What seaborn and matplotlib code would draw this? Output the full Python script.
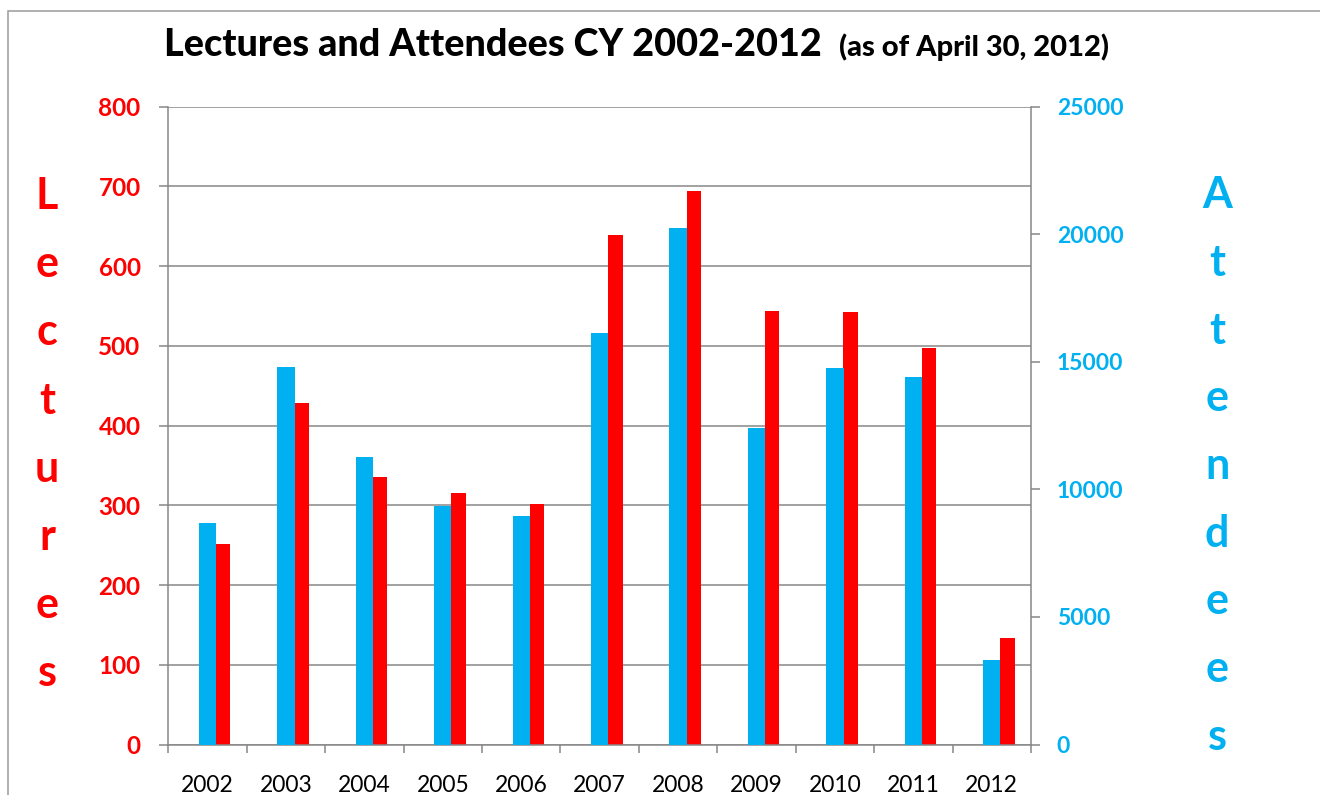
import pandas as pd
import seaborn as sns
import matplotlib.pyplot as plt
from matplotlib.patches import Rectangle


years = [2002, 2003, 2004, 2005, 2006, 2007, 2008, 2009, 2010, 2011, 2012]
lectures = [251, 428, 335, 316, 302, 639, 694, 544, 542, 497, 134]
attendees = [8690, 14810, 11270, 9360, 8950, 16120, 20250, 12400, 14760, 14420, 3300]

lecture_ticks = list(range(0, 801, 100))
attendee_ticks = list(range(0, 25001, 5000))

RED = '#FF0000'
BLUE = '#00B0F0'
GREY = '#878787'

sns.set_style('white')
plt.rcParams['font.family'] = ['Lato', 'DejaVu Sans']

df = pd.DataFrame({'year': years, 'lectures': lectures, 'attendees': attendees})

W, H = 1320, 795
fig = plt.figure(figsize=(W / 100, H / 100), dpi=100)
ax = fig.add_axes([168.3 / W, (H - 744.5) / H, (1031 - 168.3) / W, (744.5 - 106.7) / H])
ax2 = ax.twinx()

# lectures (red) sit just right of the attendees bar
sns.barplot(x=df['year'] + 0.2, y=df['lectures'], native_scale=True, width=0.185,
            color=RED, saturation=1, linewidth=0, errorbar=None, ax=ax)
sns.barplot(x=df['year'], y=df['attendees'], native_scale=True, width=0.22,
            color=BLUE, saturation=1, linewidth=0, errorbar=None, ax=ax2)

ax.set_ylim(0, 800)
ax.set_yticks(lecture_ticks)
ax2.set_ylim(0, 25000)
ax2.set_yticks(attendee_ticks)
ax.set_xlim(years[0] - 0.5, years[-1] + 0.5)

ax.set_xticks([y - 0.5 for y in years] + [years[-1] + 0.5], labels=[])
ax.set_xticks(years, labels=[str(y) for y in years], minor=True)

ax.set_xlabel('')
ax.set_ylabel('')
ax2.set_ylabel('')

ax.yaxis.grid(True, color=GREY, lw=1.1)
ax.set_axisbelow(True)

for a in (ax, ax2):
    a.spines['top'].set_visible(False)
    for s in a.spines.values():
        s.set_color(GREY)
        s.set_linewidth(1.1)
ax.spines['right'].set_visible(False)
ax2.spines['left'].set_visible(False)
ax2.spines['bottom'].set_visible(False)

ax.tick_params(axis='x', which='major', direction='out', length=5.8, width=1.1, color=GREY, bottom=True)
ax.tick_params(axis='x', which='minor', length=0, pad=22, labelsize=16.5, labelcolor='black', bottom=True)
ax.tick_params(axis='y', direction='out', length=6.5, width=1.1, color=GREY, left=True,
               pad=13.5, labelsize=17.5, labelcolor=RED)
ax2.tick_params(axis='y', direction='out', length=6.5, width=1.1, color=GREY, right=True,
                pad=12, labelsize=16.5, labelcolor=BLUE)
for t in ax.get_yticklabels():
    t.set_fontweight('bold')
for t in ax2.get_yticklabels():
    t.set_fontweight('bold')

# title in two sizes
fig.text(164 / W, 1 - 56 / H, 'Lectures and Attendees CY 2002-2012', fontsize=27.2,
         fontweight='black', color='black', va='baseline', ha='left')
fig.text(839 / W, 1 - 56 / H, '(as of April 30, 2012)', fontsize=21,
         fontweight='black', color='black', va='baseline', ha='left')

# stacked axis titles
for i, ch in enumerate('Lectures'):
    fig.text(47 / W, 1 - (209 + i * 68.2) / H, ch, fontsize=31, fontweight='bold',
             color=RED, ha='center', va='baseline')
for i, ch in enumerate('Attendees'):
    fig.text(1217 / W, 1 - (208 + i * 67.75) / H, ch, fontsize=31, fontweight='bold',
             color=BLUE, ha='center', va='baseline')

# chart frame
fig.add_artist(Rectangle((8 / W, -0.1), 1.2, (H - 10.5) / H + 0.1, transform=fig.transFigure,
                         fill=False, ec='#9a9a9a', lw=1.1))

fig.savefig('out.png', dpi=100)
plt.close()
